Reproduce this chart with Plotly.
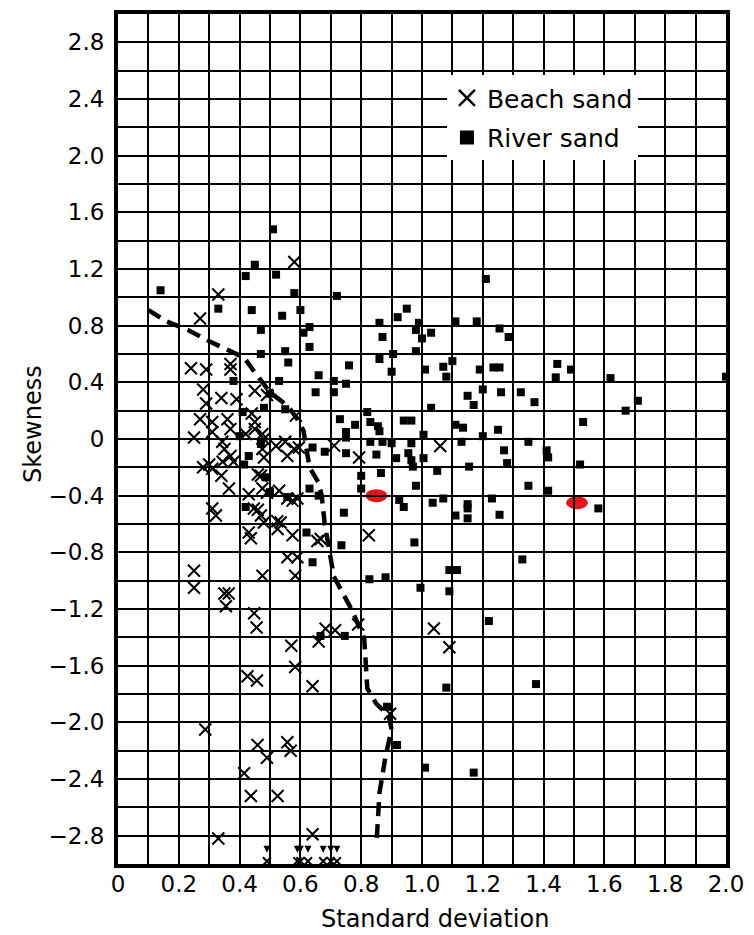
import plotly.graph_objects as go

# ---------------- data ----------------
beach_x = [0.58, 0.33, 0.27,
           0.24, 0.29, 0.37, 0.37, 0.28, 0.29, 0.34, 0.39, 0.45, 0.49,
           0.27, 0.31, 0.36, 0.45, 0.44, 0.585, 0.37, 0.31, 0.25, 0.42, 0.45, 0.475, 0.48,
           0.343, 0.35, 0.37, 0.38, 0.344, 0.475, 0.48, 0.52, 0.55, 0.58, 0.557, 0.595, 0.711, 0.793, 1.06,
           0.28, 0.31, 0.30, 0.34, 0.46, 0.47, 0.365, 0.43, 0.475, 0.49, 0.53, 0.557, 0.59, 0.574,
           0.31, 0.322, 0.447, 0.46, 0.47, 0.48, 0.535, 0.524, 0.43, 0.437, 0.525, 0.574, 0.656, 0.667, 0.825,
           0.557, 0.59, 0.25, 0.475, 0.583,
           0.25, 0.35, 0.364, 0.355, 0.448, 0.456, 0.683, 0.714, 0.66, 0.79, 0.57, 0.583, 0.426, 0.457,
           0.64, 0.895, 0.287, 0.459, 0.557, 0.568, 0.49, 0.415, 0.437, 0.525, 0.33, 0.64, 1.039, 1.09]
beach_y = [1.25, 1.02, 0.85,
           0.50, 0.49, 0.53, 0.49, 0.35, 0.25, 0.29, 0.28, 0.34, 0.31,
           0.14, 0.12, 0.14, 0.12, 0.18, 0.165, 0.07, 0.05, 0.01, 0.035, 0.07, 0.035, 0.0,
           -0.02, -0.07, -0.12, -0.16, -0.16, -0.07, -0.13, -0.05, -0.02, -0.07, -0.12, -0.06, -0.047, -0.13, -0.05,
           -0.20, -0.21, -0.18, -0.26, -0.25, -0.26, -0.35, -0.39, -0.35, -0.38, -0.365, -0.42, -0.42, -0.435,
           -0.49, -0.54, -0.49, -0.50, -0.54, -0.59, -0.59, -0.58, -0.66, -0.70, -0.635, -0.68, -0.72, -0.706, -0.68,
           -0.835, -0.835, -0.93, -0.965, -0.965,
           -1.05, -1.09, -1.09, -1.18, -1.23, -1.33, -1.34, -1.35, -1.43, -1.31, -1.46, -1.61, -1.675, -1.705,
           -1.745, -1.94, -2.05, -2.16, -2.14, -2.20, -2.25, -2.36, -2.52, -2.52, -2.82, -2.79, -1.338, -1.47]

river_x = [0.51, 0.45, 0.42, 0.52, 1.21,
           0.14, 0.58, 0.72, 0.33, 0.44, 0.60, 0.54, 0.47, 0.63, 0.61, 0.86, 0.92, 0.95, 0.99, 0.98,
           0.87, 1.0, 1.11, 1.18, 1.03, 1.255, 1.285,
           0.63, 0.47, 0.55, 0.56, 0.76, 0.98, 0.86, 0.905, 0.90, 1.01, 1.07, 1.08, 1.10, 1.19, 1.235,
           1.255, 1.445, 1.49, 1.44, 1.62, 0.66, 0.71, 0.75, 0.53, 0.38,
           0.65, 0.71, 0.50, 0.55, 0.48, 0.41, 1.20, 1.26, 1.15, 1.17, 1.325, 1.37, 1.03, 1.71, 1.67,
           0.82, 0.73, 0.78, 0.83, 0.855, 0.86, 0.94, 0.965, 1.11, 1.135, 1.20, 1.25, 1.005, 1.53,
           0.75, 0.75, 0.40,
           0.83, 0.87, 0.90, 0.965, 1.13, 1.35, 1.27, 1.28, 0.75, 0.85, 0.915, 0.955, 0.965, 0.97,
           1.005, 0.865, 0.80, 1.05, 1.155, 1.41, 1.415, 1.52, 0.64, 0.68, 0.43, 0.415, 0.47, 0.485,
           0.98, 0.80, 1.35, 1.415, 0.63, 0.66, 0.50, 0.557, 0.925, 0.94, 1.035, 1.07, 1.15, 1.15,
           1.11, 1.15, 1.23, 1.255, 1.58, 0.743, 0.42,
           0.62, 0.735, 0.975, 1.33, 0.64, 0.827, 0.88, 0.995, 1.09, 1.115, 1.09, 1.22, 0.746, 0.666,
           1.08, 1.375, 0.885, 0.918, 1.01, 1.17]
river_y = [1.48, 1.23, 1.15, 1.16, 1.13,
           1.05, 1.03, 1.01, 0.92, 0.91, 0.91, 0.87, 0.77, 0.79, 0.75, 0.82, 0.86, 0.92, 0.82, 0.77,
           0.72, 0.71, 0.83, 0.83, 0.75, 0.78, 0.72,
           0.65, 0.60, 0.62, 0.54, 0.52, 0.62, 0.565, 0.60, 0.475, 0.49, 0.51, 0.44, 0.55, 0.49, 0.505,
           0.505, 0.53, 0.49, 0.435, 0.43, 0.45, 0.41, 0.39, 0.41, 0.41,
           0.33, 0.33, 0.32, 0.21, 0.22, 0.19, 0.35, 0.33, 0.305, 0.24, 0.33, 0.26, 0.22, 0.27, 0.20,
           0.19, 0.14, 0.10, 0.12, 0.09, 0.055, 0.13, 0.13, 0.10, 0.08, 0.02, 0.065, 0.03, 0.12,
           0.05, 0.01, 0.02,
           -0.02, -0.02, -0.03, -0.03, -0.02, -0.02, -0.08, -0.17, -0.10, -0.11, -0.135, -0.10, -0.15, -0.195,
           -0.135, -0.24, -0.26, -0.225, -0.195, -0.08, -0.13, -0.18, -0.06, -0.09, -0.12, -0.18, -0.035, -0.27,
           -0.33, -0.35, -0.33, -0.365, -0.35, -0.40, -0.375, -0.41, -0.43, -0.48, -0.45, -0.42, -0.46, -0.49,
           -0.54, -0.56, -0.42, -0.535, -0.49, -0.52, -0.48,
           -0.66, -0.75, -0.73, -0.85, -0.87, -0.99, -0.976, -1.05, -0.925, -0.925, -1.075, -1.285, -1.39, -1.39,
           -1.755, -1.73, -1.89, -2.16, -2.32, -2.355]

# off-scale samples (drawn at the plot edge with arrows)
beach_offscale_x = [0.49, 0.59, 0.60, 0.625, 0.675, 0.70, 0.72]
river_offscale_y = [0.44]

# trend (dashed) line
trend_x = [0.10, 0.16, 0.23, 0.30, 0.39, 0.42, 0.45, 0.50, 0.56, 0.59, 0.61, 0.63, 0.66, 0.67,
           0.68, 0.71, 0.77, 0.81, 0.82, 0.85, 0.89, 0.90, 0.88, 0.86, 0.85]
trend_y = [0.91, 0.83, 0.77, 0.69, 0.60, 0.56, 0.47, 0.33, 0.23, 0.14, 0.06, -0.20, -0.31, -0.40,
           -0.60, -0.97, -1.21, -1.41, -1.76, -1.87, -1.95, -2.05, -2.24, -2.50, -2.87]

# highlighted samples (red marks)
highlight_x = [0.85, 1.51]
highlight_y = [-0.40, -0.45]

# ticks
x_tickvals = [0, 0.2, 0.4, 0.6, 0.8, 1.0, 1.2, 1.4, 1.6, 1.8, 2.0]
x_ticktext = ["0", "0.2", "0.4", "0.6", "0.8", "1.0", "1.2", "1.4", "1.6", "1.8", "2.0"]
y_tickvals = [-2.8, -2.4, -2.0, -1.6, -1.2, -0.8, -0.4, 0, 0.4, 0.8, 1.2, 1.6, 2.0, 2.4, 2.8]
y_ticktext = ["\u22122.8", "\u22122.4", "\u22122.0", "\u22121.6", "\u22121.2", "\u22120.8", "\u22120.4",
              "0", "0.4", "0.8", "1.2", "1.6", "2.0", "2.4", "2.8"]

# ---------------- figure ----------------
FONT = "DejaVu Sans"
fig = go.Figure()

fig.add_trace(go.Scatter(
    x=trend_x, y=trend_y, mode="lines", showlegend=False, hoverinfo="skip",
    line=dict(color="black", width=4.5, dash="14px,8px")))

fig.add_trace(go.Scatter(
    x=beach_x, y=beach_y, mode="markers", name="Beach sand", showlegend=False,
    marker=dict(symbol="x-thin", size=12, color="black",
                line=dict(color="black", width=2))))

fig.add_trace(go.Scatter(
    x=river_x, y=river_y, mode="markers", name="River sand", showlegend=False,
    marker=dict(symbol="square", size=8, color="black")))

# legend entries (larger symbols, as in the printed key)
fig.add_trace(go.Scatter(
    x=[None], y=[None], mode="markers", name="Beach sand", legendgroup="b",
    marker=dict(symbol="x-thin", size=16, color="black", line=dict(color="black", width=2.5))))
fig.add_trace(go.Scatter(
    x=[None], y=[None], mode="markers", name="River sand", legendgroup="r",
    marker=dict(symbol="square", size=14, color="black")))

# off-scale beach samples at the bottom edge
fig.add_trace(go.Scatter(
    x=beach_offscale_x, y=[-2.98] * len(beach_offscale_x), mode="markers",
    showlegend=False, cliponaxis=False, hoverinfo="skip",
    marker=dict(symbol="x-thin", size=8, color="black", line=dict(color="black", width=2))))
fig.add_trace(go.Scatter(
    x=beach_offscale_x, y=[-2.92] * len(beach_offscale_x), mode="markers",
    showlegend=False, cliponaxis=False, hoverinfo="skip",
    marker=dict(symbol="arrow-down", size=7, color="black")))

# off-scale river sample at the right edge
fig.add_trace(go.Scatter(
    x=[2.0] * len(river_offscale_y), y=river_offscale_y, mode="markers",
    showlegend=False, cliponaxis=False, hoverinfo="skip",
    marker=dict(symbol="square", size=8, color="black")))
fig.add_trace(go.Scatter(
    x=[2.022] * len(river_offscale_y), y=river_offscale_y, mode="markers",
    showlegend=False, cliponaxis=False, hoverinfo="skip",
    marker=dict(symbol="arrow-right", size=8, color="black")))

# red highlight ellipses
for hx, hy in zip(highlight_x, highlight_y):
    fig.add_shape(type="circle", xref="x", yref="y", layer="below",
                  xsizemode="pixel", ysizemode="pixel",
                  xanchor=hx, yanchor=hy, x0=-11, x1=11, y0=-6.5, y1=6.5,
                  fillcolor="#e3141b", line=dict(width=0))

axis_common = dict(
    showgrid=True, gridcolor="black", gridwidth=2,
    showline=True, linecolor="black", linewidth=4, mirror=True,
    zeroline=False, ticks="", tickfont=dict(family=FONT, size=23, color="black"),
)

fig.update_xaxes(range=[0, 2.0], tickmode="array", tickvals=x_tickvals, ticktext=x_ticktext,
                 minor=dict(tickmode="linear", tick0=0, dtick=0.1, showgrid=True,
                            gridcolor="black", gridwidth=2, ticks=""),
                 ticklabelstandoff=-4, **axis_common)
fig.update_yaxes(range=[-3.0, 3.0], tickmode="array", tickvals=y_tickvals, ticktext=y_ticktext,
                 minor=dict(tickmode="linear", tick0=0, dtick=0.2, showgrid=True,
                            gridcolor="black", gridwidth=2, ticks=""),
                 ticklabelstandoff=5, **axis_common)

fig.add_annotation(text="Standard deviation", xref="paper", yref="paper",
                   x=0.521, y=-0.065, xanchor="center", yanchor="middle", showarrow=False,
                   font=dict(family=FONT, size=24, color="black"))
fig.add_annotation(text="Skewness", xref="paper", yref="paper",
                   x=-0.141, y=0.518, xanchor="center", yanchor="middle", showarrow=False,
                   textangle=-90, font=dict(family=FONT, size=24, color="black"))

fig.update_layout(
    width=754, height=935,
    margin=dict(l=118, r=26, t=10, b=71),
    paper_bgcolor="white", plot_bgcolor="white",
    font=dict(family=FONT, color="black"),
    legend=dict(x=0.541, y=0.928, xanchor="left", yanchor="top",
                bgcolor="white", borderwidth=0, itemsizing="trace",
                tracegroupgap=4,
                font=dict(family=FONT, size=25, color="black")),
)

fig.write_html("out.html", config={"displayModeBar": False})
